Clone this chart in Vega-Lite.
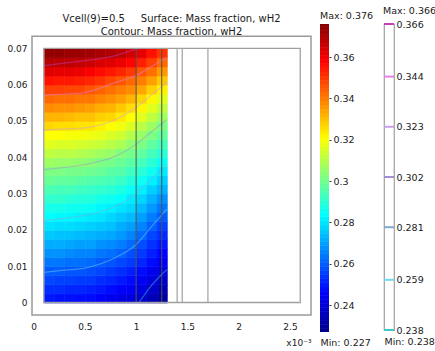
{
"$schema":"https://vega.github.io/schema/vega-lite/v6.json",
"padding":{"left":6,"top":4,"right":0,"bottom":0},
"background":"white",
"spacing":8,
"config":{"font":"DejaVu Sans","view":{"stroke":"#9a9a9a","strokeWidth":1.5},"axis":{"grid":false,"domain":false,"ticks":false,"labelColor":"#1a1a1a","titleColor":"#1a1a1a","labelFontSize":9,"titleFontWeight":"normal"},"title":{"fontWeight":"normal","color":"#1a1a1a"}},
"datasets":{
"heat":[
{"x":0.1,"y":0,"w":0.249},{"x":0.1,"y":0.0025,"w":0.252},{"x":0.1,"y":0.005,"w":0.256},{"x":0.1,"y":0.0075,"w":0.259},{"x":0.1,"y":0.01,"w":0.263},{"x":0.1,"y":0.0125,"w":0.267},{"x":0.1,"y":0.015,"w":0.271},{"x":0.1,"y":0.0175,"w":0.275},{"x":0.1,"y":0.02,"w":0.279},{"x":0.1,"y":0.0225,"w":0.283},{"x":0.1,"y":0.025,"w":0.286},{"x":0.1,"y":0.0275,"w":0.290},{"x":0.1,"y":0.03,"w":0.294},{"x":0.1,"y":0.0325,"w":0.298},{"x":0.1,"y":0.035,"w":0.301},{"x":0.1,"y":0.0375,"w":0.306},{"x":0.1,"y":0.04,"w":0.311},{"x":0.1,"y":0.0425,"w":0.316},{"x":0.1,"y":0.045,"w":0.320},{"x":0.1,"y":0.0475,"w":0.326},{"x":0.1,"y":0.05,"w":0.331},{"x":0.1,"y":0.0525,"w":0.337},{"x":0.1,"y":0.055,"w":0.342},{"x":0.1,"y":0.0575,"w":0.348},{"x":0.1,"y":0.06,"w":0.355},{"x":0.1,"y":0.0625,"w":0.362},{"x":0.1,"y":0.065,"w":0.368},{"x":0.1,"y":0.0675,"w":0.373},
{"x":0.2,"y":0,"w":0.248},{"x":0.2,"y":0.0025,"w":0.252},{"x":0.2,"y":0.005,"w":0.255},{"x":0.2,"y":0.0075,"w":0.259},{"x":0.2,"y":0.01,"w":0.263},{"x":0.2,"y":0.0125,"w":0.267},{"x":0.2,"y":0.015,"w":0.271},{"x":0.2,"y":0.0175,"w":0.274},{"x":0.2,"y":0.02,"w":0.278},{"x":0.2,"y":0.0225,"w":0.282},{"x":0.2,"y":0.025,"w":0.286},{"x":0.2,"y":0.0275,"w":0.290},{"x":0.2,"y":0.03,"w":0.293},{"x":0.2,"y":0.0325,"w":0.297},{"x":0.2,"y":0.035,"w":0.301},{"x":0.2,"y":0.0375,"w":0.305},{"x":0.2,"y":0.04,"w":0.310},{"x":0.2,"y":0.0425,"w":0.315},{"x":0.2,"y":0.045,"w":0.320},{"x":0.2,"y":0.0475,"w":0.325},{"x":0.2,"y":0.05,"w":0.331},{"x":0.2,"y":0.0525,"w":0.336},{"x":0.2,"y":0.055,"w":0.341},{"x":0.2,"y":0.0575,"w":0.348},{"x":0.2,"y":0.06,"w":0.354},{"x":0.2,"y":0.0625,"w":0.361},{"x":0.2,"y":0.065,"w":0.367},{"x":0.2,"y":0.0675,"w":0.373},
{"x":0.3,"y":0,"w":0.248},{"x":0.3,"y":0.0025,"w":0.251},{"x":0.3,"y":0.005,"w":0.255},{"x":0.3,"y":0.0075,"w":0.258},{"x":0.3,"y":0.01,"w":0.262},{"x":0.3,"y":0.0125,"w":0.266},{"x":0.3,"y":0.015,"w":0.270},{"x":0.3,"y":0.0175,"w":0.274},{"x":0.3,"y":0.02,"w":0.278},{"x":0.3,"y":0.0225,"w":0.282},{"x":0.3,"y":0.025,"w":0.285},{"x":0.3,"y":0.0275,"w":0.289},{"x":0.3,"y":0.03,"w":0.293},{"x":0.3,"y":0.0325,"w":0.297},{"x":0.3,"y":0.035,"w":0.300},{"x":0.3,"y":0.0375,"w":0.305},{"x":0.3,"y":0.04,"w":0.310},{"x":0.3,"y":0.0425,"w":0.315},{"x":0.3,"y":0.045,"w":0.319},{"x":0.3,"y":0.0475,"w":0.325},{"x":0.3,"y":0.05,"w":0.330},{"x":0.3,"y":0.0525,"w":0.336},{"x":0.3,"y":0.055,"w":0.341},{"x":0.3,"y":0.0575,"w":0.347},{"x":0.3,"y":0.06,"w":0.354},{"x":0.3,"y":0.0625,"w":0.361},{"x":0.3,"y":0.065,"w":0.367},{"x":0.3,"y":0.0675,"w":0.372},
{"x":0.4,"y":0,"w":0.247},{"x":0.4,"y":0.0025,"w":0.251},{"x":0.4,"y":0.005,"w":0.254},{"x":0.4,"y":0.0075,"w":0.258},{"x":0.4,"y":0.01,"w":0.262},{"x":0.4,"y":0.0125,"w":0.265},{"x":0.4,"y":0.015,"w":0.269},{"x":0.4,"y":0.0175,"w":0.273},{"x":0.4,"y":0.02,"w":0.277},{"x":0.4,"y":0.0225,"w":0.281},{"x":0.4,"y":0.025,"w":0.285},{"x":0.4,"y":0.0275,"w":0.288},{"x":0.4,"y":0.03,"w":0.292},{"x":0.4,"y":0.0325,"w":0.296},{"x":0.4,"y":0.035,"w":0.300},{"x":0.4,"y":0.0375,"w":0.304},{"x":0.4,"y":0.04,"w":0.309},{"x":0.4,"y":0.0425,"w":0.314},{"x":0.4,"y":0.045,"w":0.319},{"x":0.4,"y":0.0475,"w":0.324},{"x":0.4,"y":0.05,"w":0.329},{"x":0.4,"y":0.0525,"w":0.335},{"x":0.4,"y":0.055,"w":0.340},{"x":0.4,"y":0.0575,"w":0.347},{"x":0.4,"y":0.06,"w":0.353},{"x":0.4,"y":0.0625,"w":0.360},{"x":0.4,"y":0.065,"w":0.366},{"x":0.4,"y":0.0675,"w":0.372},
{"x":0.5,"y":0,"w":0.247},{"x":0.5,"y":0.0025,"w":0.250},{"x":0.5,"y":0.005,"w":0.254},{"x":0.5,"y":0.0075,"w":0.257},{"x":0.5,"y":0.01,"w":0.261},{"x":0.5,"y":0.0125,"w":0.265},{"x":0.5,"y":0.015,"w":0.269},{"x":0.5,"y":0.0175,"w":0.272},{"x":0.5,"y":0.02,"w":0.276},{"x":0.5,"y":0.0225,"w":0.280},{"x":0.5,"y":0.025,"w":0.284},{"x":0.5,"y":0.0275,"w":0.288},{"x":0.5,"y":0.03,"w":0.291},{"x":0.5,"y":0.0325,"w":0.295},{"x":0.5,"y":0.035,"w":0.299},{"x":0.5,"y":0.0375,"w":0.303},{"x":0.5,"y":0.04,"w":0.308},{"x":0.5,"y":0.0425,"w":0.313},{"x":0.5,"y":0.045,"w":0.318},{"x":0.5,"y":0.0475,"w":0.324},{"x":0.5,"y":0.05,"w":0.329},{"x":0.5,"y":0.0525,"w":0.334},{"x":0.5,"y":0.055,"w":0.340},{"x":0.5,"y":0.0575,"w":0.345},{"x":0.5,"y":0.06,"w":0.352},{"x":0.5,"y":0.0625,"w":0.358},{"x":0.5,"y":0.065,"w":0.365},{"x":0.5,"y":0.0675,"w":0.371},
{"x":0.6,"y":0,"w":0.245},{"x":0.6,"y":0.0025,"w":0.249},{"x":0.6,"y":0.005,"w":0.252},{"x":0.6,"y":0.0075,"w":0.256},{"x":0.6,"y":0.01,"w":0.259},{"x":0.6,"y":0.0125,"w":0.263},{"x":0.6,"y":0.015,"w":0.267},{"x":0.6,"y":0.0175,"w":0.271},{"x":0.6,"y":0.02,"w":0.275},{"x":0.6,"y":0.0225,"w":0.279},{"x":0.6,"y":0.025,"w":0.282},{"x":0.6,"y":0.0275,"w":0.286},{"x":0.6,"y":0.03,"w":0.290},{"x":0.6,"y":0.0325,"w":0.294},{"x":0.6,"y":0.035,"w":0.298},{"x":0.6,"y":0.0375,"w":0.301},{"x":0.6,"y":0.04,"w":0.306},{"x":0.6,"y":0.0425,"w":0.312},{"x":0.6,"y":0.045,"w":0.317},{"x":0.6,"y":0.0475,"w":0.322},{"x":0.6,"y":0.05,"w":0.327},{"x":0.6,"y":0.0525,"w":0.332},{"x":0.6,"y":0.055,"w":0.338},{"x":0.6,"y":0.0575,"w":0.343},{"x":0.6,"y":0.06,"w":0.350},{"x":0.6,"y":0.0625,"w":0.356},{"x":0.6,"y":0.065,"w":0.363},{"x":0.6,"y":0.0675,"w":0.370},
{"x":0.7,"y":0,"w":0.243},{"x":0.7,"y":0.0025,"w":0.247},{"x":0.7,"y":0.005,"w":0.251},{"x":0.7,"y":0.0075,"w":0.254},{"x":0.7,"y":0.01,"w":0.258},{"x":0.7,"y":0.0125,"w":0.262},{"x":0.7,"y":0.015,"w":0.266},{"x":0.7,"y":0.0175,"w":0.270},{"x":0.7,"y":0.02,"w":0.274},{"x":0.7,"y":0.0225,"w":0.277},{"x":0.7,"y":0.025,"w":0.281},{"x":0.7,"y":0.0275,"w":0.285},{"x":0.7,"y":0.03,"w":0.289},{"x":0.7,"y":0.0325,"w":0.293},{"x":0.7,"y":0.035,"w":0.296},{"x":0.7,"y":0.0375,"w":0.300},{"x":0.7,"y":0.04,"w":0.305},{"x":0.7,"y":0.0425,"w":0.310},{"x":0.7,"y":0.045,"w":0.315},{"x":0.7,"y":0.0475,"w":0.320},{"x":0.7,"y":0.05,"w":0.326},{"x":0.7,"y":0.0525,"w":0.331},{"x":0.7,"y":0.055,"w":0.336},{"x":0.7,"y":0.0575,"w":0.341},{"x":0.7,"y":0.06,"w":0.347},{"x":0.7,"y":0.0625,"w":0.354},{"x":0.7,"y":0.065,"w":0.362},{"x":0.7,"y":0.0675,"w":0.369},
{"x":0.8,"y":0,"w":0.241},{"x":0.8,"y":0.0025,"w":0.245},{"x":0.8,"y":0.005,"w":0.249},{"x":0.8,"y":0.0075,"w":0.252},{"x":0.8,"y":0.01,"w":0.256},{"x":0.8,"y":0.0125,"w":0.260},{"x":0.8,"y":0.015,"w":0.264},{"x":0.8,"y":0.0175,"w":0.268},{"x":0.8,"y":0.02,"w":0.271},{"x":0.8,"y":0.0225,"w":0.275},{"x":0.8,"y":0.025,"w":0.279},{"x":0.8,"y":0.0275,"w":0.283},{"x":0.8,"y":0.03,"w":0.287},{"x":0.8,"y":0.0325,"w":0.291},{"x":0.8,"y":0.035,"w":0.295},{"x":0.8,"y":0.0375,"w":0.298},{"x":0.8,"y":0.04,"w":0.302},{"x":0.8,"y":0.0425,"w":0.308},{"x":0.8,"y":0.045,"w":0.313},{"x":0.8,"y":0.0475,"w":0.318},{"x":0.8,"y":0.05,"w":0.323},{"x":0.8,"y":0.0525,"w":0.328},{"x":0.8,"y":0.055,"w":0.334},{"x":0.8,"y":0.0575,"w":0.339},{"x":0.8,"y":0.06,"w":0.345},{"x":0.8,"y":0.0625,"w":0.352},{"x":0.8,"y":0.065,"w":0.360},{"x":0.8,"y":0.0675,"w":0.367},
{"x":0.9,"y":0,"w":0.240},{"x":0.9,"y":0.0025,"w":0.244},{"x":0.9,"y":0.005,"w":0.247},{"x":0.9,"y":0.0075,"w":0.250},{"x":0.9,"y":0.01,"w":0.254},{"x":0.9,"y":0.0125,"w":0.257},{"x":0.9,"y":0.015,"w":0.261},{"x":0.9,"y":0.0175,"w":0.265},{"x":0.9,"y":0.02,"w":0.269},{"x":0.9,"y":0.0225,"w":0.273},{"x":0.9,"y":0.025,"w":0.277},{"x":0.9,"y":0.0275,"w":0.280},{"x":0.9,"y":0.03,"w":0.284},{"x":0.9,"y":0.0325,"w":0.288},{"x":0.9,"y":0.035,"w":0.292},{"x":0.9,"y":0.0375,"w":0.296},{"x":0.9,"y":0.04,"w":0.300},{"x":0.9,"y":0.0425,"w":0.304},{"x":0.9,"y":0.045,"w":0.309},{"x":0.9,"y":0.0475,"w":0.315},{"x":0.9,"y":0.05,"w":0.320},{"x":0.9,"y":0.0525,"w":0.325},{"x":0.9,"y":0.055,"w":0.331},{"x":0.9,"y":0.0575,"w":0.337},{"x":0.9,"y":0.06,"w":0.342},{"x":0.9,"y":0.0625,"w":0.349},{"x":0.9,"y":0.065,"w":0.357},{"x":0.9,"y":0.0675,"w":0.364},
{"x":1.0,"y":0,"w":0.237},{"x":1.0,"y":0.0025,"w":0.241},{"x":1.0,"y":0.005,"w":0.244},{"x":1.0,"y":0.0075,"w":0.247},{"x":1.0,"y":0.01,"w":0.251},{"x":1.0,"y":0.0125,"w":0.254},{"x":1.0,"y":0.015,"w":0.257},{"x":1.0,"y":0.0175,"w":0.261},{"x":1.0,"y":0.02,"w":0.265},{"x":1.0,"y":0.0225,"w":0.269},{"x":1.0,"y":0.025,"w":0.273},{"x":1.0,"y":0.0275,"w":0.277},{"x":1.0,"y":0.03,"w":0.281},{"x":1.0,"y":0.0325,"w":0.285},{"x":1.0,"y":0.035,"w":0.289},{"x":1.0,"y":0.0375,"w":0.293},{"x":1.0,"y":0.04,"w":0.297},{"x":1.0,"y":0.0425,"w":0.301},{"x":1.0,"y":0.045,"w":0.305},{"x":1.0,"y":0.0475,"w":0.310},{"x":1.0,"y":0.05,"w":0.316},{"x":1.0,"y":0.0525,"w":0.321},{"x":1.0,"y":0.055,"w":0.326},{"x":1.0,"y":0.0575,"w":0.333},{"x":1.0,"y":0.06,"w":0.339},{"x":1.0,"y":0.0625,"w":0.345},{"x":1.0,"y":0.065,"w":0.353},{"x":1.0,"y":0.0675,"w":0.361},
{"x":1.1,"y":0,"w":0.234},{"x":1.1,"y":0.0025,"w":0.237},{"x":1.1,"y":0.005,"w":0.240},{"x":1.1,"y":0.0075,"w":0.243},{"x":1.1,"y":0.01,"w":0.247},{"x":1.1,"y":0.0125,"w":0.250},{"x":1.1,"y":0.015,"w":0.253},{"x":1.1,"y":0.0175,"w":0.256},{"x":1.1,"y":0.02,"w":0.260},{"x":1.1,"y":0.0225,"w":0.264},{"x":1.1,"y":0.025,"w":0.268},{"x":1.1,"y":0.0275,"w":0.272},{"x":1.1,"y":0.03,"w":0.276},{"x":1.1,"y":0.0325,"w":0.281},{"x":1.1,"y":0.035,"w":0.285},{"x":1.1,"y":0.0375,"w":0.289},{"x":1.1,"y":0.04,"w":0.293},{"x":1.1,"y":0.0425,"w":0.297},{"x":1.1,"y":0.045,"w":0.301},{"x":1.1,"y":0.0475,"w":0.306},{"x":1.1,"y":0.05,"w":0.311},{"x":1.1,"y":0.0525,"w":0.316},{"x":1.1,"y":0.055,"w":0.321},{"x":1.1,"y":0.0575,"w":0.327},{"x":1.1,"y":0.06,"w":0.334},{"x":1.1,"y":0.0625,"w":0.341},{"x":1.1,"y":0.065,"w":0.348},{"x":1.1,"y":0.0675,"w":0.355},
{"x":1.2,"y":0,"w":0.230},{"x":1.2,"y":0.0025,"w":0.233},{"x":1.2,"y":0.005,"w":0.236},{"x":1.2,"y":0.0075,"w":0.240},{"x":1.2,"y":0.01,"w":0.243},{"x":1.2,"y":0.0125,"w":0.246},{"x":1.2,"y":0.015,"w":0.249},{"x":1.2,"y":0.0175,"w":0.252},{"x":1.2,"y":0.02,"w":0.255},{"x":1.2,"y":0.0225,"w":0.259},{"x":1.2,"y":0.025,"w":0.263},{"x":1.2,"y":0.0275,"w":0.267},{"x":1.2,"y":0.03,"w":0.272},{"x":1.2,"y":0.0325,"w":0.276},{"x":1.2,"y":0.035,"w":0.280},{"x":1.2,"y":0.0375,"w":0.284},{"x":1.2,"y":0.04,"w":0.289},{"x":1.2,"y":0.0425,"w":0.293},{"x":1.2,"y":0.045,"w":0.297},{"x":1.2,"y":0.0475,"w":0.301},{"x":1.2,"y":0.05,"w":0.306},{"x":1.2,"y":0.0525,"w":0.311},{"x":1.2,"y":0.055,"w":0.316},{"x":1.2,"y":0.0575,"w":0.322},{"x":1.2,"y":0.06,"w":0.328},{"x":1.2,"y":0.0625,"w":0.335},{"x":1.2,"y":0.065,"w":0.342},{"x":1.2,"y":0.0675,"w":0.350}
],
"bar":[{"w":0.227},{"w":0.229},{"w":0.231},{"w":0.233},{"w":0.235},{"w":0.237},{"w":0.239},{"w":0.241},{"w":0.243},{"w":0.245},{"w":0.247},{"w":0.249},{"w":0.251},{"w":0.253},{"w":0.255},{"w":0.257},{"w":0.259},{"w":0.261},{"w":0.263},{"w":0.265},{"w":0.267},{"w":0.269},{"w":0.271},{"w":0.273},{"w":0.275},{"w":0.277},{"w":0.279},{"w":0.281},{"w":0.283},{"w":0.285},{"w":0.287},{"w":0.289},{"w":0.291},{"w":0.293},{"w":0.295},{"w":0.297},{"w":0.299},{"w":0.301},{"w":0.303},{"w":0.305},{"w":0.307},{"w":0.309},{"w":0.311},{"w":0.313},{"w":0.315},{"w":0.317},{"w":0.319},{"w":0.321},{"w":0.323},{"w":0.325},{"w":0.327},{"w":0.329},{"w":0.331},{"w":0.333},{"w":0.335},{"w":0.337},{"w":0.339},{"w":0.341},{"w":0.343},{"w":0.345},{"w":0.347},{"w":0.349},{"w":0.351},{"w":0.353},{"w":0.355},{"w":0.357},{"w":0.359},{"w":0.361},{"w":0.363},{"w":0.365},{"w":0.367},{"w":0.369},{"w":0.371},{"w":0.373},{"w":0.375}],
"contours":[
{"lvl":0.366,"x":0.1,"y":0.0652},{"lvl":0.366,"x":0.3,"y":0.0659},{"lvl":0.366,"x":0.5,"y":0.0666},{"lvl":0.366,"x":0.8,"y":0.068},{"lvl":0.366,"x":1.0,"y":0.0697},{"lvl":0.366,"x":1.06,"y":0.07},
{"lvl":0.344,"x":0.1,"y":0.0571},{"lvl":0.344,"x":0.3,"y":0.0574},{"lvl":0.344,"x":0.5,"y":0.0578},{"lvl":0.344,"x":0.8,"y":0.0606},{"lvl":0.344,"x":1.0,"y":0.0625},{"lvl":0.344,"x":1.15,"y":0.065},{"lvl":0.344,"x":1.3,"y":0.0675},
{"lvl":0.323,"x":0.1,"y":0.0475},{"lvl":0.323,"x":0.3,"y":0.0478},{"lvl":0.323,"x":0.5,"y":0.0481},{"lvl":0.323,"x":0.8,"y":0.0504},{"lvl":0.323,"x":1.0,"y":0.0537},{"lvl":0.323,"x":1.15,"y":0.0572},{"lvl":0.323,"x":1.3,"y":0.0606},
{"lvl":0.302,"x":0.1,"y":0.0366},{"lvl":0.302,"x":0.3,"y":0.0372},{"lvl":0.302,"x":0.5,"y":0.038},{"lvl":0.302,"x":0.8,"y":0.0403},{"lvl":0.302,"x":1.0,"y":0.0435},{"lvl":0.302,"x":1.15,"y":0.047},{"lvl":0.302,"x":1.3,"y":0.0504},
{"lvl":0.281,"x":0.1,"y":0.0225},{"lvl":0.281,"x":0.3,"y":0.0232},{"lvl":0.281,"x":0.5,"y":0.024},{"lvl":0.281,"x":0.8,"y":0.0265},{"lvl":0.281,"x":1.0,"y":0.03},{"lvl":0.281,"x":1.15,"y":0.034},{"lvl":0.281,"x":1.3,"y":0.038},
{"lvl":0.259,"x":0.1,"y":0.0083},{"lvl":0.259,"x":0.3,"y":0.0089},{"lvl":0.259,"x":0.5,"y":0.0095},{"lvl":0.259,"x":0.8,"y":0.0124},{"lvl":0.259,"x":1.0,"y":0.016},{"lvl":0.259,"x":1.15,"y":0.0209},{"lvl":0.259,"x":1.3,"y":0.0257},
{"lvl":0.238,"x":1.03,"y":0},{"lvl":0.238,"x":1.15,"y":0.0047},{"lvl":0.238,"x":1.3,"y":0.0091}
],
"levels":[{"lvl":0.238},{"lvl":0.259},{"lvl":0.281},{"lvl":0.302},{"lvl":0.323},{"lvl":0.344},{"lvl":0.366}]
},
"hconcat":[
{
"width":279,"height":291,
"view":{"stroke":null},
"title":{"text":["Vcell(9)=0.5\u00a0\u00a0\u00a0\u00a0 Surface: Mass fraction, wH2","Contour: Mass fraction, wH2"],"fontSize":10,"lineHeight":12.5,"offset":-12.5},
"layer":[
{"data":{"name":"heat"},"mark":{"type":"rect","binSpacing":0,"strokeWidth":0.6,"stroke":{"expr":"scale('color', datum.w)"}},
"encoding":{
"x":{"field":"x","type":"quantitative","bin":{"binned":true,"step":0.1},"scale":{"domain":[-0.015,2.705],"nice":false,"zero":false},"axis":{"values":[0,0.5,1,1.5,2,2.5],"format":"~g","labelPadding":7,"labelFlush":false,"title":"x10⁻³","titleAnchor":"end","titleFontSize":9,"titlePadding":7}},
"y":{"field":"y","type":"quantitative","bin":{"binned":true,"step":0.0025},"scale":{"domain":[-0.00344,0.0767],"nice":false,"zero":false},"axis":{"values":[0,0.01,0.02,0.03,0.04,0.05,0.06,0.07],"labelExpr":"datum.value == 0 ? '0' : format(datum.value, '.2f')","labelPadding":5,"title":null}},
"color":{"field":"w","type":"quantitative","scale":{"type":"linear","domain":[0.227,0.2456,0.2829,0.3201,0.3574,0.376],"range":["#00008f","#0000ff","#00ffff","#ffff00","#ff0000","#800000"],"interpolate":"rgb"},"legend":null}
}},
{"data":{"name":"contours"},"mark":{"type":"line","strokeWidth":1.3,"opacity":0.45,"interpolate":"monotone"},
"encoding":{
"x":{"field":"x","type":"quantitative"},
"y":{"field":"y","type":"quantitative"},
"stroke":{"field":"lvl","type":"ordinal","scale":{"domain":[0.238,0.259,0.281,0.302,0.323,0.344,0.366],"range":["#40c8c8","#70d8f0","#80a8d0","#a090d0","#c8a0e8","#e080e8","#c040c0"]},"legend":null}
}},
{"data":{"values":[{"x":1.0},{"x":1.25}]},"mark":{"type":"rule","color":"#505050","strokeWidth":1},
"encoding":{"x":{"field":"x","type":"quantitative"},"y":{"datum":0,"type":"quantitative"},"y2":{"datum":0.07}}},
{"data":{"values":[{"x":1.4},{"x":1.45},{"x":1.7}]},"mark":{"type":"rule","color":"#a8a8a8","strokeWidth":1.3},
"encoding":{"x":{"field":"x","type":"quantitative"},"y":{"datum":0,"type":"quantitative"},"y2":{"datum":0.07}}},
{"data":{"values":[{}]},"mark":{"type":"rect","fillOpacity":0,"stroke":"#a0a0a0","strokeWidth":1.3},
"encoding":{"x":{"datum":0.1,"type":"quantitative"},"x2":{"datum":2.6},"y":{"datum":0,"type":"quantitative"},"y2":{"datum":0.07}}},
{"data":{"values":[{}]},"mark":{"type":"rect","fillOpacity":0,"stroke":"#9a9a9a","strokeWidth":1.5},
"encoding":{"x":{"datum":-0.015,"type":"quantitative"},"x2":{"datum":2.705},"y":{"datum":-0.00344,"type":"quantitative"},"y2":{"datum":0.0733}}}
]
},
{
"width":9,"height":308,
"title":{"text":"Max: 0.376","anchor":"start","fontSize":9.5,"offset":4},
"view":{"stroke":null},
"data":{"name":"bar"},
"mark":{"type":"rect","clip":true,"binSpacing":0,"strokeWidth":0.6,"stroke":{"expr":"scale('color', datum.w)"}},
"encoding":{
"x":{"datum":0,"type":"quantitative","scale":{"domain":[0,1]},"axis":{"title":"Min: 0.227","labels":false,"titleFontSize":9.5,"titleAnchor":"start","titlePadding":5}},
"x2":{"datum":1},
"y":{"field":"w","type":"quantitative","bin":{"binned":true,"step":0.002},"scale":{"domain":[0.227,0.376],"nice":false,"zero":false},"axis":{"orient":"right","values":[0.24,0.26,0.28,0.3,0.32,0.34,0.36],"format":"~g","labelFontSize":9.5,"labelPadding":2,"ticks":true,"tickSize":2,"tickColor":"#333333","title":null}},
"color":{"field":"w","type":"quantitative","scale":{"type":"linear","domain":[0.227,0.2456,0.2829,0.3201,0.3574,0.376],"range":["#00008f","#0000ff","#00ffff","#ffff00","#ff0000","#800000"],"interpolate":"rgb"},"legend":null}
}
},
{
"width":10,"height":306,
"title":{"text":"Max: 0.366","anchor":"start","fontSize":9.5,"offset":4},
"view":{"stroke":"#a0a0a0","strokeWidth":1.2},
"data":{"name":"levels"},
"mark":{"type":"rule","strokeWidth":2},
"encoding":{
"x":{"datum":0,"type":"quantitative","scale":{"domain":[0,1]},"axis":{"title":"Min: 0.238","labels":false,"titleFontSize":9.5,"titleAnchor":"start","titlePadding":6}},
"x2":{"datum":1},
"y":{"field":"lvl","type":"quantitative","scale":{"domain":[0.238,0.366],"nice":false,"zero":false},"axis":{"orient":"right","values":[0.238,0.259,0.281,0.302,0.323,0.344,0.366],"format":".3f","labelFontSize":9.5,"labelPadding":2,"title":null}},
"stroke":{"field":"lvl","type":"ordinal","scale":{"domain":[0.238,0.259,0.281,0.302,0.323,0.344,0.366],"range":["#40c8c8","#70d8f0","#80a8d0","#a090d0","#c8a0e8","#e080e8","#c040c0"]},"legend":null}
}
}
]
}
